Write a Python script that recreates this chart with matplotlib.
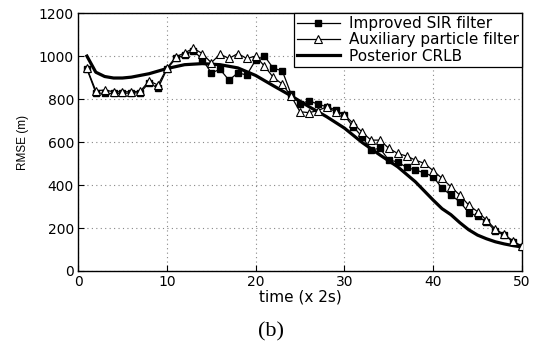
import matplotlib
matplotlib.use("Agg")
import matplotlib.pyplot as plt
import numpy as np

t = list(range(1, 51))
sir = [940, 829, 826, 826, 826, 829, 829, 876, 850, 938,
       989, 1005, 1025, 985, 922, 938, 888, 922, 912, 981,
       1000, 943, 932, 823, 777, 792, 777, 764, 751, 724,
       671, 625, 563, 571, 516, 508, 482, 470, 457, 439,
       385, 353, 322, 272, 255, 229, 187, 167, 136, 113]
apf = [943, 839, 842, 834, 834, 834, 836, 885, 865, 943,
       996, 1015, 1036, 1012, 969, 1009, 989, 1012, 989, 1000,
       953, 901, 870, 814, 741, 737, 746, 764, 741, 726,
       687, 646, 609, 609, 571, 547, 535, 516, 501, 467,
       431, 392, 353, 307, 276, 237, 195, 170, 140, 115]
crlb_t = [1, 2, 3, 4, 5, 6, 8, 10, 12, 14, 16, 18, 20, 22, 24, 26, 28,
          30, 32, 34, 36, 38, 40, 41, 42, 43, 44, 45, 46, 47, 48, 49, 50]
crlb = [1000, 925, 905, 898, 898, 902, 918, 942, 960, 965, 960, 945, 910,
        862, 815, 765, 718, 665, 598, 540, 485, 415, 330, 290, 262, 225,
        192, 167, 150, 136, 126, 118, 112]

legend_labels = ["Improved SIR filter", "Auxiliary particle filter", "Posterior CRLB"]

plt.rcParams['font.family'] = ['DejaVu Sans']
fig = plt.figure(figsize=(5.42, 3.45), dpi=100)
ax = fig.add_axes([0.144, 0.2145, 0.819, 0.7475])

ax.plot(t, sir, '-s', color='black', lw=0.9, ms=4.6, mfc='black', mec='black',
        label=legend_labels[0], zorder=3)
ax.plot(t, apf, '-^', color='black', lw=0.9, ms=5.4, mfc='white', mec='black',
        mew=0.8, label=legend_labels[1], zorder=4)
ax.plot(crlb_t, crlb, '-', color='black', lw=2.3, label=legend_labels[2], zorder=2)

ax.set_xlim(0, 50)
ax.set_ylim(0, 1200)
ax.set_xticks([0, 10, 20, 30, 40, 50])
ax.set_yticks([0, 200, 400, 600, 800, 1000, 1200])
ax.grid(True, linestyle=(0, (1, 3)), color='#888888', lw=0.8)
ax.tick_params(direction='in', labelsize=10, length=4, width=0.8, pad=3)
for s in ax.spines.values():
    s.set_linewidth(1.0)
ax.set_xlabel("time (x 2s)", fontsize=11, labelpad=0)
ax.set_ylabel("RMSE (m)", fontsize=8.5, labelpad=7,
              family=['Liberation Sans', 'DejaVu Sans'])

leg = ax.legend(loc='upper right', fontsize=11, frameon=True, fancybox=False,
                edgecolor='black', framealpha=1, borderpad=0.2, labelspacing=0.08,
                handlelength=2.8, handletextpad=0.6, borderaxespad=0.0)
leg.get_frame().set_linewidth(0.9)

fig.text(0.5, 0.038, "(b)", ha='center', va='center', fontsize=16,
         family=['Liberation Serif', 'DejaVu Serif'])

fig.savefig("out.png", dpi=100)
